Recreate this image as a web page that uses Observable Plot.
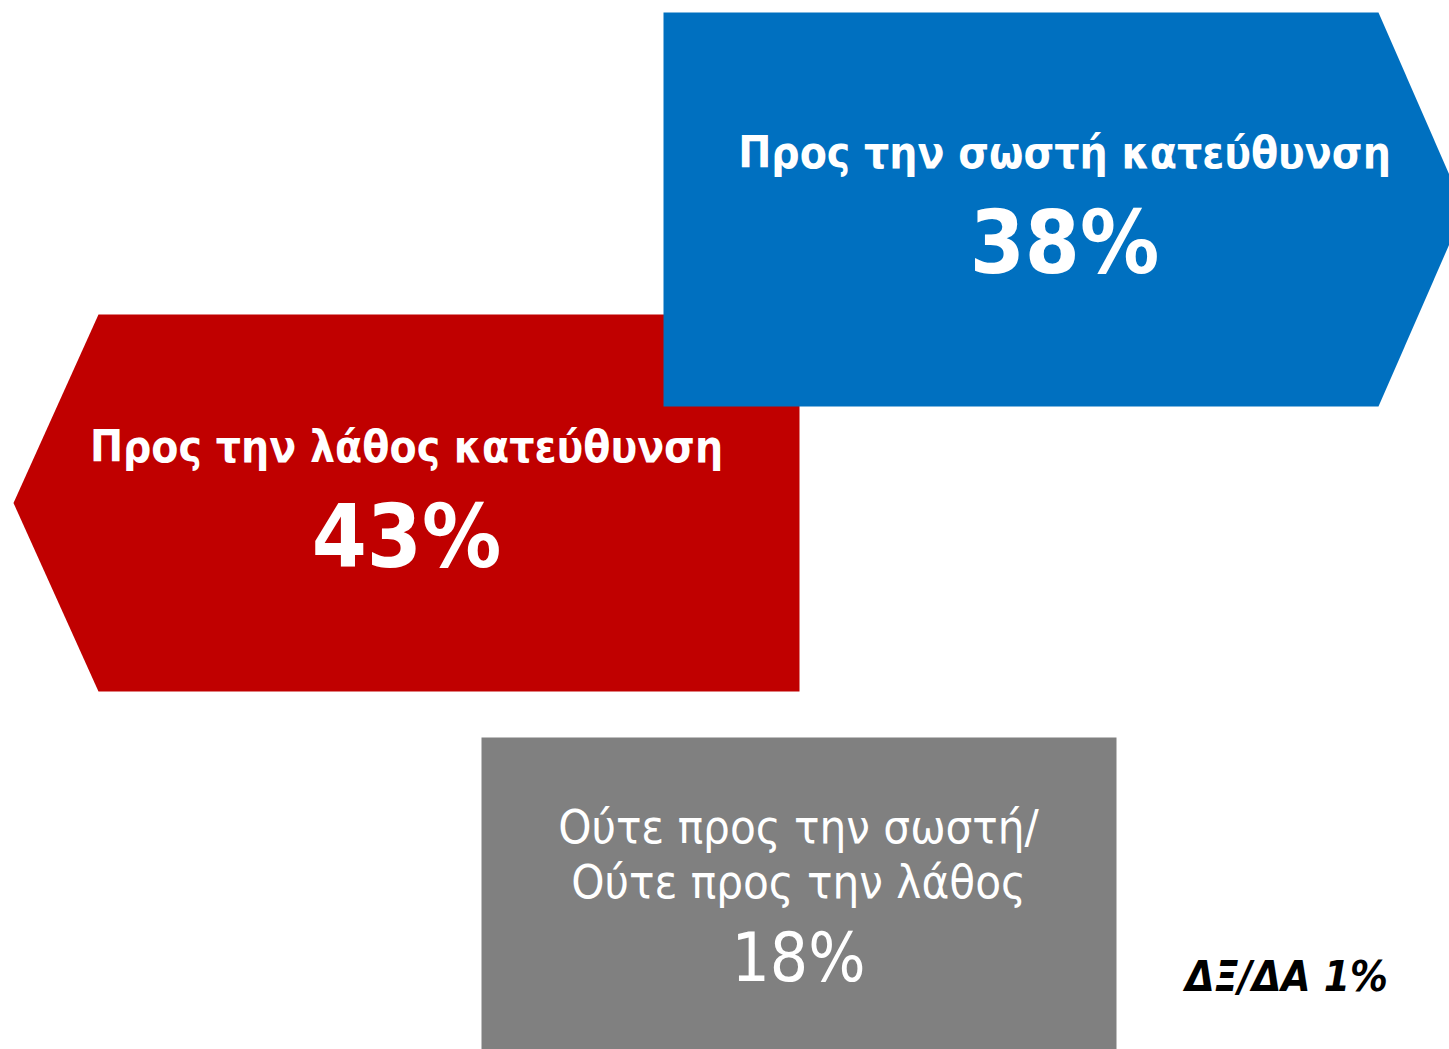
<!DOCTYPE html>
<html>
<head>
<meta charset="utf-8">
<script src="https://cdn.jsdelivr.net/npm/d3@7"></script>
<script src="https://cdn.jsdelivr.net/npm/@observablehq/plot@0.6"></script>
<style>
  html, body { margin: 0; padding: 0; background: #fff; overflow: hidden; }
  #chart svg { display: block; }
</style>
</head>
<body>
<div id="chart"></div>
<script>
// ---- data ----
const categories = ["Προς την λάθος κατεύθυνση", "Προς την σωστή κατεύθυνση", "Ούτε προς την σωστή/\nΟύτε προς την λάθος"];
const values = [43, 38, 18];
const colors = ["#C00000", "#0070C0", "#808080"];
const shapeKinds = ["arrowLeft", "arrowRight", "box"];
const otherLabel = "ΔΞ/ΔΑ";
const otherValue = 1;

// ---- layout (panel boxes in page pixels) ----
const W = 1449, H = 1049;
const boxes = [
  {x0: 98, x1: 799, y0: 314, y1: 691, tip: 85},
  {x0: 663, x1: 1378, y0: 12, y1: 406, tip: 86},
  {x0: 481, x1: 1116, y0: 737, y1: 1060, tip: 0}
];
const labelStyle = [
  {cx: 406, labelY: 461, valueY: 566, labelSize: 44, valueSize: 88, weight: "bold"},
  {cx: 1064, labelY: 167, valueY: 272, labelSize: 44, valueSize: 88, weight: "bold"},
  {cx: 798, labelY: 840, valueY: 980, labelSize: 47, valueSize: 67, weight: "normal", lineHeight: 1.17}
];

function polygon(b, kind) {
  const ym = (b.y0 + b.y1) / 2;
  if (kind === "arrowRight") return [[b.x0,b.y0],[b.x1,b.y0],[b.x1+b.tip,ym],[b.x1,b.y1],[b.x0,b.y1]];
  if (kind === "arrowLeft") return [[b.x0,b.y0],[b.x1,b.y0],[b.x1,b.y1],[b.x0,b.y1],[b.x0-b.tip,ym]];
  return [[b.x0,b.y0],[b.x1,b.y0],[b.x1,b.y1],[b.x0,b.y1]];
}

const shapes = categories.map((c, i) => ({
  cat: c, value: values[i], color: colors[i],
  pts: polygon(boxes[i], shapeKinds[i]).map(([x, y]) => ({x, y, cat: c}))
}));

const labels = categories.map((c, i) => ({
  text: c, x: labelStyle[i].cx, y: labelStyle[i].labelY, ...labelStyle[i]
}));
const nums = categories.map((c, i) => ({
  text: values[i] + "%", x: labelStyle[i].cx, y: labelStyle[i].valueY, ...labelStyle[i]
}));

const font = "'DejaVu Sans Condensed', 'DejaVu Sans', sans-serif";

const marks = [];
shapes.forEach(s => {
  marks.push(Plot.line(s.pts, {x: "x", y: "y", fill: s.color, stroke: "none", curve: "linear-closed", clip: true}));
});
labels.forEach(l => {
  marks.push(Plot.text([l], {
    x: "x", y: "y", text: "text", fill: "white", fontSize: l.labelSize, fontWeight: l.weight,
    textAnchor: "middle", lineAnchor: l.lineHeight ? "top" : "bottom", lineHeight: l.lineHeight || 1,
    dy: l.lineHeight ? -l.labelSize * 0.78 : 0
  }));
});
nums.forEach(n => {
  marks.push(Plot.text([n], {
    x: "x", y: "y", text: "text", fill: "white", fontSize: n.valueSize, fontWeight: n.weight,
    textAnchor: "middle", lineAnchor: "bottom"
  }));
});
marks.push(Plot.text([{t: `${otherLabel} ${otherValue}%`, x: 1286, y: 990}], {
  x: "x", y: "y", text: "t", fill: "black", fontSize: 42, fontWeight: "bold", fontStyle: "italic",
  textAnchor: "middle", lineAnchor: "bottom"
}));

const chart = Plot.plot({
  width: W, height: H,
  margin: 0,
  x: {domain: [0, W], range: [0, W], axis: null},
  y: {domain: [0, H], range: [0, H], axis: null},
  style: {fontFamily: font, background: "white", overflow: "hidden"},
  marks
});
document.getElementById("chart").appendChild(chart);
</script>
</body>
</html>
